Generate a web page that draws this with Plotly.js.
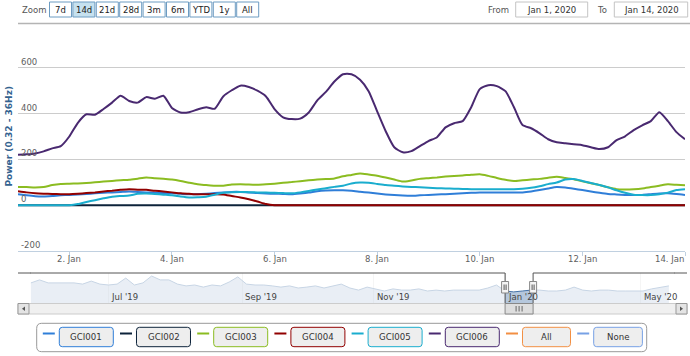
<!DOCTYPE html>
<html><head><meta charset="utf-8">
<script src="https://cdn.plot.ly/plotly-3.0.1.min.js"></script>
<style>html,body{margin:0;padding:0;background:#fff}#chart{width:690px;height:356px}</style>
</head><body><div id="chart"></div>
<script>
// ---------------- data ----------------
const startTime = '2020-01-01T00:00:00';
const stepHours = 4;
const seriesNames = ['GCI001','GCI002','GCI003','GCI004','GCI005','GCI006'];
const seriesColors = ['#2f7ed8','#0d233a','#8bbc21','#910000','#1aadce','#492970'];
const extraNames = ['All','None'];
const extraColors = ['#f28f43','#77a1e5'];

const GCI001 = [48,43,39,38,40,43,45,47,49,52,
 54,56,58,60,58,56,54,53,52,50,
 48,48,50,53,56,58,58,55,53,51,
 50,49,48,51,55,61,64,65,65,63,
 59,55,51,47,44,42,41,43,45,47,
 48,50,52,54,55,55,55,55,55,56,
 60,66,73,79,77,72,66,60,54,49,
 47,45,44,45,48,51,52,49,45];
const GCI002 = [0,0,0,0,0,0,0,0,0,0,
 0,0,0,0,0,0,0,0,0,0,
 0,0,0,0,0,0,0,0,0,0,
 0,0,0,0,0,0,0,0,0,0,
 0,0,0,0,0,0,0,0,0,0,
 0,0,0,0,0,0,0,0,0,0,
 0,0,0,0,0,0,0,0,0,0,
 0,0,0,0,0,0,0,0,0];
const GCI003 = [80,79,77,79,88,93,94,95,97,100,
 103,106,109,111,116,121,118,115,112,106,
 98,91,88,85,85,90,92,90,89,91,
 94,98,101,105,109,112,114,117,126,132,
 138,134,129,121,112,103,108,115,118,121,
 125,128,130,133,135,128,119,111,106,109,
 112,115,120,124,119,113,104,96,88,78,
 70,69,70,73,79,85,91,89,87];
const GCI004 = [61,56,52,50,49,48,48,50,53,56,
 60,63,67,70,68,67,63,60,56,52,
 50,48,48,48,47,40,34,26,16,5,
 0,0,0,0,0,0,0,0,0,0,
 0,0,0,0,0,0,0,0,0,0,
 0,0,0,0,0,0,0,0,0,0,
 0,0,0,0,0,0,0,0,0,0,
 0,0,0,0,0,0,0,0,0];
const GCI005 = [0,0,0,0,0,0,0,5,14,22,
 30,37,40,42,50,51,49,46,43,38,
 34,35,37,46,54,57,58,57,56,55,
 54,53,52,56,62,69,74,80,85,95,
 99,98,93,88,85,82,80,78,76,74,
 73,72,71,70,70,70,70,70,70,72,
 76,83,92,99,112,114,106,97,88,78,
 65,54,46,44,44,48,55,66,70];
const GCI006 = [220,222,226,235,248,258,300,360,397,395,
 420,448,478,455,448,472,465,478,425,405,
 406,418,428,421,475,502,522,516,500,475,
 420,384,376,378,405,458,495,540,572,572,
 548,498,410,323,253,231,236,258,280,297,
 340,358,367,428,507,524,520,498,428,350,
 336,314,288,275,271,266,262,253,245,253,
 284,301,328,349,367,406,367,319,288];

const xTickDates = ['2020-01-02','2020-01-04','2020-01-06','2020-01-08','2020-01-10','2020-01-12','2020-01-14'];
const xTickText  = ['2. Jan','4. Jan','6. Jan','8. Jan','10. Jan','12. Jan','14. Jan'];
const yTickVals = [-200,0,200,400,600,800];
const yTickText = ['-200','0','200','400','600',''];
const yTitle = 'Power (0.32 - 36Hz)';

const zoomLabel = 'Zoom';
const zoomButtons = ['7d','14d','21d','28d','3m','6m','YTD','1y','All'];
const activeButton = '14d';
const fromLabel = 'From', toLabel = 'To';
const fromDate = 'Jan 1, 2020', toDate = 'Jan 14, 2020';
const selStart = '2020-01-01', selEnd = '2020-01-14';

// navigator (overview) series: 4-day samples, with a data gap Feb-Mar 2020
const navStart = '2019-05-26', navResume = '2020-03-31', navStepDays = 4;
const navValues1 = [67,77,67,67,67,67,63,73,63,60,
 63,83,60,67,90,77,77,63,57,60,
 53,60,57,70,87,63,60,60,57,53,
 57,50,53,57,50,57,63,50,43,53,
 47,40,47,43,43,47,40,43,40,43,
 43,43,43,50,60,40,37,40,43,43,
 40,40,43];
const navValues2 = [53,43,40,43,43,40,40,40,40,47,53,57];
const navBreak = ['2020-02-01','2020-03-30'];
const navTickDates = ['2019-07-01','2019-09-01','2019-11-01','2020-01-01','2020-05-01'];
const navTickText = ["Jul '19","Sep '19","Nov '19","Jan '20","May '20"];

// ---------------- build ----------------
function fmt(ms){ return new Date(ms).toISOString().slice(0,16).replace('T',' '); }
const t0 = Date.parse(startTime + 'Z');
const times = GCI001.map((_, i) => fmt(t0 + i * stepHours * 3600e3));
const n0 = Date.parse(navStart + 'T00:00:00Z'), n1 = Date.parse(navResume + 'T00:00:00Z');
const navDates = navValues1.map((_, i) => fmt(n0 + i * navStepDays * 864e5))
  .concat(navValues2.map((_, i) => fmt(n1 + i * navStepDays * 864e5)));
const navValues = navValues1.concat(navValues2);
const seriesData = [GCI001, GCI002, GCI003, GCI004, GCI005, GCI006];

const FONT = '"DejaVu Sans", Verdana, sans-serif';
const W = 690, H = 356, L = 18, R = 5, T = 22, B = 53;
const PW = W - L - R, PH = H - T - B;
const px = x => (x - L) / PW;
const py = y => (H - B - y) / PH;
const navRange = ['2019-05-25 14:00', '2020-05-16 20:00'];

const traces = seriesNames.map((n, i) => ({
  type: 'scatter', mode: 'lines', name: n, x: times, y: seriesData[i],
  xaxis: 'x', yaxis: 'y', showlegend: false,
  line: {color: seriesColors[i], width: 2, shape: 'spline', smoothing: 0.6}
}));
traces.push({
  type: 'scatter', mode: 'lines', name: 'Navigator', x: navDates, y: navValues,
  xaxis: 'x2', yaxis: 'y2', showlegend: false, hoverinfo: 'skip',
  fill: 'tozeroy', fillcolor: 'rgba(69,114,167,0.4)',
  line: {color: '#4572A7', width: 1}
});

const shapes = [];
const annotations = [];
function rectPx(x0, y0, x1, y1, fill, line, lw) {
  shapes.push({type: 'rect', xref: 'paper', yref: 'paper', x0: px(x0), x1: px(x1), y0: py(y0), y1: py(y1),
    fillcolor: fill, line: {color: line, width: lw === undefined ? 1 : lw}, layer: 'above'});
}
function linePx(x0, y0, x1, y1, color, w, layer) {
  shapes.push({type: 'line', xref: 'paper', yref: 'paper', x0: px(x0), x1: px(x1), y0: py(y0), y1: py(y1),
    line: {color: color, width: w}, layer: layer || 'above'});
}
function rrPath(x0, y0, x1, y1, r) {
  const P = (x, y) => px(x).toFixed(5) + ',' + py(y).toFixed(5);
  return 'M' + P(x0 + r, y0) + ' L' + P(x1 - r, y0) + ' Q' + P(x1, y0) + ' ' + P(x1, y0 + r) +
    ' L' + P(x1, y1 - r) + ' Q' + P(x1, y1) + ' ' + P(x1 - r, y1) +
    ' L' + P(x0 + r, y1) + ' Q' + P(x0, y1) + ' ' + P(x0, y1 - r) +
    ' L' + P(x0, y0 + r) + ' Q' + P(x0, y0) + ' ' + P(x0 + r, y0) + ' Z';
}
function textPx(x, y, text, opts) {
  annotations.push(Object.assign({xref: 'paper', yref: 'paper', x: px(x), y: py(y), text: text,
    showarrow: false, xanchor: 'center', yanchor: 'middle',
    font: {family: FONT, size: 8.5, color: '#333'}}, opts || {}));
}

// top grid line (800) sits on the range edge; drawn across like the original
linePx(18, 23.5, 690, 23.5, '#b4b4b4', 1.3, 'above');

// ---- range selector row ----
textPx(20, 10, zoomLabel, {xanchor: 'left', font: {family: FONT, size: 8.5, color: '#555'}});
zoomButtons.forEach((b, i) => {
  const x0 = 49.5 + i * 23.4, x1 = x0 + 22;
  rectPx(x0, 2, x1, 17, b === activeButton ? '#c6e1ef' : '#ffffff', '#6d9cc2', 1);
  textPx((x0 + x1) / 2, 10, b, {font: {family: FONT, size: 8.5, color: '#222'}});
});
textPx(511, 10, fromLabel, {xanchor: 'right', font: {family: FONT, size: 8.5, color: '#555'}});
rectPx(515.7, 2, 587.7, 17, '#ffffff', '#c4c4c4', 1);
textPx(551.7, 10, fromDate, {font: {family: FONT, size: 8.5, color: '#333'}});
textPx(608.5, 10, toLabel, {xanchor: 'right', font: {family: FONT, size: 8.5, color: '#555'}});
rectPx(614.3, 2, 687.7, 17, '#ffffff', '#c4c4c4', 1);
textPx(651, 10, toDate, {font: {family: FONT, size: 8.5, color: '#333'}});

// ---- y axis title ----
textPx(8, 136.5, yTitle, {textangle: -90, font: {family: FONT, size: 9, color: '#33628f', weight: 'bold'}});
// x tick labels (placed at the library's tick positions; last one kept inside the edge like the original)
xTickDates.forEach((d, i) => {
  const last = i === xTickDates.length - 1;
  annotations.push({xref: 'x', yref: 'paper', x: d, y: py(258.5), text: xTickText[i], showarrow: false,
    xanchor: last ? 'right' : 'center', yanchor: 'middle', xshift: last ? 1 : 0,
    font: {family: FONT, size: 8.5, color: '#606060'}});
});

// ---- navigator ----
shapes.push({type: 'rect', xref: 'x2', yref: 'y2', x0: navRange[0], x1: selStart, y0: 0, y1: 100,
  fillcolor: 'rgba(255,255,255,0.7)', line: {width: 0}, layer: 'above'});
shapes.push({type: 'rect', xref: 'x2', yref: 'y2', x0: selEnd, x1: navRange[1], y0: 0, y1: 100,
  fillcolor: 'rgba(255,255,255,0.7)', line: {width: 0}, layer: 'above'});
const OUT = '#555';
linePx(18, 273, 30.5, 273, OUT, 1);
linePx(674.5, 273, 687, 273, OUT, 1);
[[navRange[0], selStart], [selEnd, navRange[1]]].forEach(seg => shapes.push({type: 'line', xref: 'x2', yref: 'paper',
  x0: seg[0], x1: seg[1], y0: py(273), y1: py(273), line: {color: OUT, width: 1}, layer: 'above'}));
[selStart, selEnd].forEach(d => shapes.push({type: 'line', xref: 'x2', yref: 'paper',
  x0: d, x1: d, y0: py(273), y1: py(303.5), line: {color: OUT, width: 1}, layer: 'above'}));
navTickDates.forEach((d, i) => annotations.push({xref: 'x2', yref: 'paper', x: d, y: py(297),
  text: navTickText[i], showarrow: false, xanchor: 'left', yanchor: 'middle', xshift: 1,
  font: {family: FONT, size: 8.5, color: '#444'}}));

// ---- scrollbar ----
rectPx(18, 303.5, 687, 314, '#f0f0f0', '#cccccc', 1);
rectPx(18, 303.5, 29, 314, '#e4e4e4', '#999999', 1);
rectPx(676, 303.5, 687, 314, '#e4e4e4', '#999999', 1);
const P2 = (x, y) => px(x).toFixed(5) + ',' + py(y).toFixed(5);
shapes.push({type: 'path', xref: 'paper', yref: 'paper', path: 'M' + P2(25, 306.5) + ' L' + P2(22, 308.8) + ' L' + P2(25, 311.1) + ' Z',
  fillcolor: '#555', line: {width: 0}, layer: 'above'});
shapes.push({type: 'path', xref: 'paper', yref: 'paper', path: 'M' + P2(680, 306.5) + ' L' + P2(683, 308.8) + ' L' + P2(680, 311.1) + ' Z',
  fillcolor: '#555', line: {width: 0}, layer: 'above'});
shapes.push({type: 'rect', xref: 'x2', yref: 'paper', x0: selStart, x1: selEnd, y0: py(303.5), y1: py(314),
  fillcolor: '#dedede', line: {color: '#888', width: 1}, layer: 'above'});
const selMid = fmt((Date.parse(selStart + 'T00:00:00Z') + Date.parse(selEnd + 'T00:00:00Z')) / 2);
[-3, 0, 3].forEach(o => shapes.push({type: 'line', xref: 'x2', yref: 'paper', xsizemode: 'pixel', xanchor: selMid,
  x0: o, x1: o, y0: py(306), y1: py(311.5), line: {color: '#666', width: 1}, layer: 'above'}));

// navigator handles
[selStart, selEnd].forEach(d => {
  shapes.push({type: 'rect', xref: 'x2', yref: 'paper', xsizemode: 'pixel', xanchor: d, x0: -3.5, x1: 3.5,
    y0: py(293), y1: py(281.5), fillcolor: '#f4f4f4', line: {color: '#888', width: 1}, layer: 'above'});
  [-1, 1].forEach(o => shapes.push({type: 'line', xref: 'x2', yref: 'paper', xsizemode: 'pixel', xanchor: d,
    x0: o, x1: o, y0: py(284.5), y1: py(290), line: {color: '#555', width: 1}, layer: 'above'}));
});

// ---- legend (button style) ----
shapes.push({type: 'path', xref: 'paper', yref: 'paper', path: rrPath(36.7, 323.3, 646.7, 351.7, 5),
  fillcolor: 'rgba(0,0,0,0)', line: {color: '#999', width: 1}, layer: 'above'});
const legNames = seriesNames.concat(extraNames);
const legColors = seriesColors.concat(extraColors);
const legWidths = [54, 54, 54, 54, 54, 54, 48, 48.7];
let lx = 42.8;
legNames.forEach((n, i) => {
  linePx(lx, 333.5, lx + 12, 333.5, legColors[i], 2);
  const bx0 = lx + 16.5, bx1 = bx0 + legWidths[i];
  shapes.push({type: 'path', xref: 'paper', yref: 'paper', path: rrPath(bx0, 327.3, bx1, 346.7, 3),
    fillcolor: '#eeeeee', line: {color: legColors[i], width: 1}, layer: 'above'});
  textPx((bx0 + bx1) / 2, 337, n, {font: {family: FONT, size: 8.6, color: '#333'}});
  lx = bx1 + 6.7;
});

const layout = {
  width: W, height: H, margin: {l: L, r: R, t: T, b: B, pad: 0},
  paper_bgcolor: '#ffffff', plot_bgcolor: 'rgba(0,0,0,0)',
  font: {family: FONT, size: 8.5, color: '#606060'},
  showlegend: false, hovermode: false,
  xaxis: {type: 'date', domain: [0, 1], anchor: 'y', range: [selStart, selEnd],
    tickvals: xTickDates, showticklabels: false,
    ticks: 'outside', ticklen: 4, tickcolor: '#C0D0E0', showline: true, linecolor: '#C0D0E0', linewidth: 1,
    showgrid: false, zeroline: false, fixedrange: true},
  yaxis: {domain: [py(251), 1], anchor: 'x', range: [-200, 800], tickvals: yTickVals, ticktext: yTickText,
    ticklabelposition: 'inside top', ticks: '', showgrid: true, gridcolor: '#cccccc', gridwidth: 1,
    zeroline: false, showline: false, tickfont: {family: FONT, size: 8.5, color: '#606060'}, fixedrange: true},
  xaxis2: {type: 'date', domain: [px(30), px(675)], anchor: 'y2', range: navRange,
    rangebreaks: [{bounds: navBreak}], tickvals: navTickDates, showticklabels: false, ticks: '',
    showgrid: true, gridcolor: '#dcdcdc', zeroline: false, showline: false, fixedrange: true},
  yaxis2: {domain: [0, py(273)], anchor: 'x2', range: [0, 100], visible: false, fixedrange: true},
  shapes: shapes, annotations: annotations
};

Plotly.newPlot('chart', traces, layout, {displayModeBar: false, staticPlot: true});
</script>
</body></html>
